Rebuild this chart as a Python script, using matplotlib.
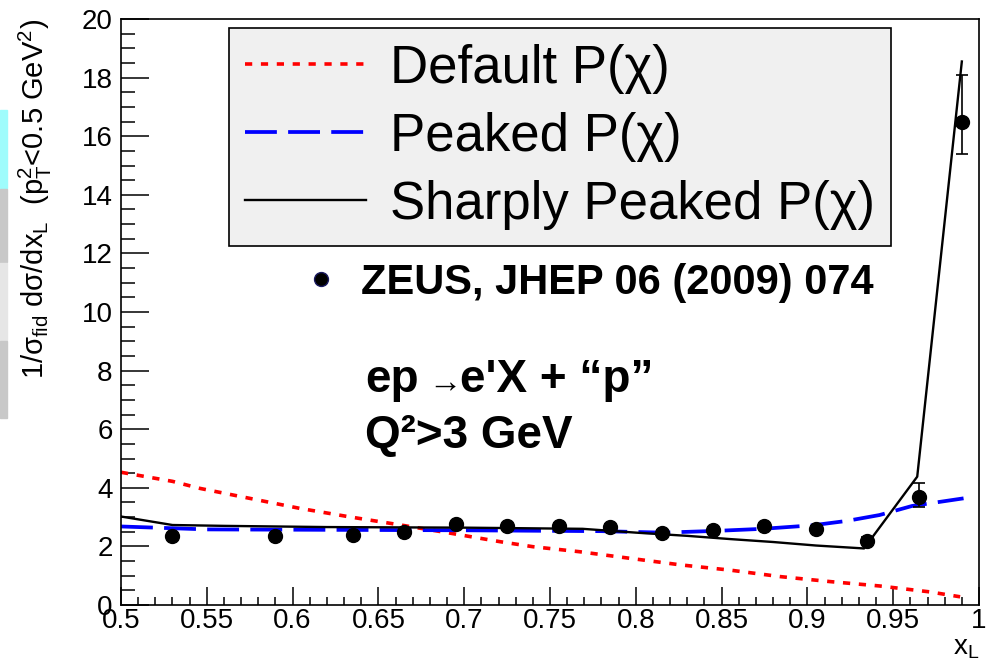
import matplotlib
matplotlib.use("Agg")
import matplotlib.pyplot as plt
from matplotlib.lines import Line2D
from matplotlib.patches import Rectangle
from matplotlib.ticker import MultipleLocator

plt.rcParams['font.family'] = ['Liberation Sans', 'DejaVu Sans']
plt.rcParams['mathtext.fontset'] = 'custom'
plt.rcParams['mathtext.rm'] = 'Liberation Sans'
plt.rcParams['mathtext.it'] = 'Liberation Sans'
plt.rcParams['mathtext.bf'] = 'Liberation Sans:bold'

# ZEUS data points
xl_data = [0.53, 0.59, 0.635, 0.665, 0.695, 0.725, 0.755, 0.785, 0.815,
           0.845, 0.875, 0.905, 0.935, 0.965, 0.99]
y_data = [2.36, 2.36, 2.38, 2.50, 2.75, 2.68, 2.71, 2.65, 2.47,
          2.56, 2.70, 2.58, 2.19, 3.70, 16.5]
err_lo = [0.08, 0.08, 0.08, 0.08, 0.08, 0.1, 0.1, 0.1, 0.1,
          0.1, 0.1, 0.1, 0.12, 0.35, 1.1]
err_hi = [0.08, 0.08, 0.08, 0.08, 0.08, 0.1, 0.1, 0.1, 0.1,
          0.1, 0.1, 0.1, 0.12, 0.45, 1.6]

# model curves
x_default = [0.500, 0.530, 0.546, 0.575, 0.604, 0.633, 0.663, 0.692, 0.721,
             0.740, 0.767, 0.797, 0.826, 0.855, 0.884, 0.913, 0.942, 0.971, 0.989]
y_default = [4.53, 4.22, 3.98, 3.64, 3.30, 3.01, 2.73, 2.45, 2.16,
             1.99, 1.82, 1.59, 1.37, 1.19, 0.97, 0.80, 0.65, 0.45, 0.28]

x_peaked = [0.500, 0.550, 0.600, 0.700, 0.780, 0.816, 0.847, 0.874, 0.903,
            0.923, 0.942, 0.961, 0.991]
y_peaked = [2.68, 2.58, 2.57, 2.55, 2.52, 2.47, 2.53, 2.60, 2.72,
            2.87, 3.07, 3.38, 3.64]

x_sharp = [0.500, 0.530, 0.561, 0.620, 0.700, 0.769, 0.800, 0.830, 0.855,
           0.880, 0.905, 0.933, 0.964, 0.990]
y_sharp = [3.02, 2.73, 2.70, 2.66, 2.64, 2.60, 2.47, 2.36, 2.25,
           2.15, 2.03, 1.93, 4.38, 18.55]

xtick_vals = [0.5, 0.55, 0.6, 0.65, 0.7, 0.75, 0.8, 0.85, 0.9, 0.95, 1.0]
xtick_labels = ['0.5', '0.55', '0.6', '0.65', '0.7', '0.75', '0.8',
                '0.85', '0.9', '0.95', '1']

fig = plt.figure(figsize=(9.87, 6.68), dpi=100)
ax = fig.add_axes([121 / 987, 1 - 605 / 668, 858 / 987, 586 / 668])

# slide leftovers on the far left
strips = [(110, 188, '#9ffcfc'), (189, 262, '#c8c8c8'),
          (263, 340, '#e6e6e6'), (341, 418, '#c8c8c8')]
for y0, y1, c in strips:
    fig.patches.append(Rectangle((0, 1 - y1 / 668), 7 / 987, (y1 - y0) / 668,
                                 transform=fig.transFigure, color=c, zorder=0))

l1, = ax.plot(x_default, y_default, color='red', lw=2.6, dashes=(2.0, 2.4))
l2, = ax.plot(x_peaked, y_peaked, color='blue', lw=2.7, dashes=(8.5, 3.0))
l3, = ax.plot(x_sharp, y_sharp, color='black', lw=1.7)
ax.errorbar(xl_data, y_data, yerr=[err_lo, err_hi], fmt='o', color='black',
            ms=10, elinewidth=1.2, capsize=4, capthick=1.2, zorder=5)

ax.set_xticks(xtick_vals)
ax.set_xticklabels(xtick_labels)
ax.xaxis.set_minor_locator(MultipleLocator(0.01))
ax.yaxis.set_major_locator(MultipleLocator(2))
ax.yaxis.set_minor_locator(MultipleLocator(0.5))
ax.set_xlim(0.5, 1.0)
ax.set_ylim(0, 20)
ax.tick_params(axis='x', which='major', direction='in', length=13, width=1.1,
               labelsize=20, pad=2, top=False)
ax.tick_params(axis='x', which='minor', direction='in', length=6, width=1.1,
               top=False)
ax.tick_params(axis='y', which='major', direction='in', length=20, width=1.1,
               labelsize=20, pad=6, right=False)
ax.tick_params(axis='y', which='minor', direction='in', length=10, width=1.1,
               right=False)
for s in ax.spines.values():
    s.set_linewidth(1.2)

ax.set_ylabel(r'1/$\sigma_{fid}$ d$\sigma$/dx$_L$  (p$_T^2$<0.5 GeV$^2$)',
              fontsize=21, loc='top')
ax.yaxis.set_label_coords(-0.078, 1.0)
ax.set_xlabel(r'x$_L$', fontsize=20, loc='right')
ax.xaxis.set_label_coords(1.0, -0.052)

leg = ax.legend([l1, l2, l3],
                [u'Default P(\u03c7)', u'Peaked P(\u03c7)', u'Sharply Peaked P(\u03c7)'],
                loc='upper left', bbox_to_anchor=(229 / 987, 1 - 28 / 668),
                bbox_transform=fig.transFigure, borderaxespad=0,
                fontsize=38, handlelength=2.3, handletextpad=0.45,
                borderpad=0.3, labelspacing=0.34, fancybox=False,
                facecolor='#f0f0f0', edgecolor='black', framealpha=1)
leg.get_frame().set_linewidth(1.2)
ax.add_artist(leg)

zeus = Line2D([], [], marker='o', color='black', ms=10, ls='none',
              markeredgecolor='#1a1a60')
ax.legend([zeus], ['ZEUS, JHEP 06 (2009) 074'], loc='center left',
          bbox_to_anchor=(284 / 987, 1 - 283 / 668),
          bbox_transform=fig.transFigure, borderaxespad=0, frameon=False,
          prop={'weight': 'bold', 'size': 30}, handlelength=1.0,
          handletextpad=0.45)

ax.text(0.6422, 7.27, 'ep', fontsize=33, fontweight='bold', va='baseline')
ax.text(0.6788, 7.27, u'\u2192', fontsize=24, va='baseline')
ax.text(0.6976, 7.27, u"e'X + \u201cp\u201d", fontsize=33, fontweight='bold',
        va='baseline')
ax.text(0.6422, 5.36, u'Q\u00b2>3 GeV', fontsize=33, fontweight='bold',
        va='baseline')

fig.savefig('out.png', dpi=100)
